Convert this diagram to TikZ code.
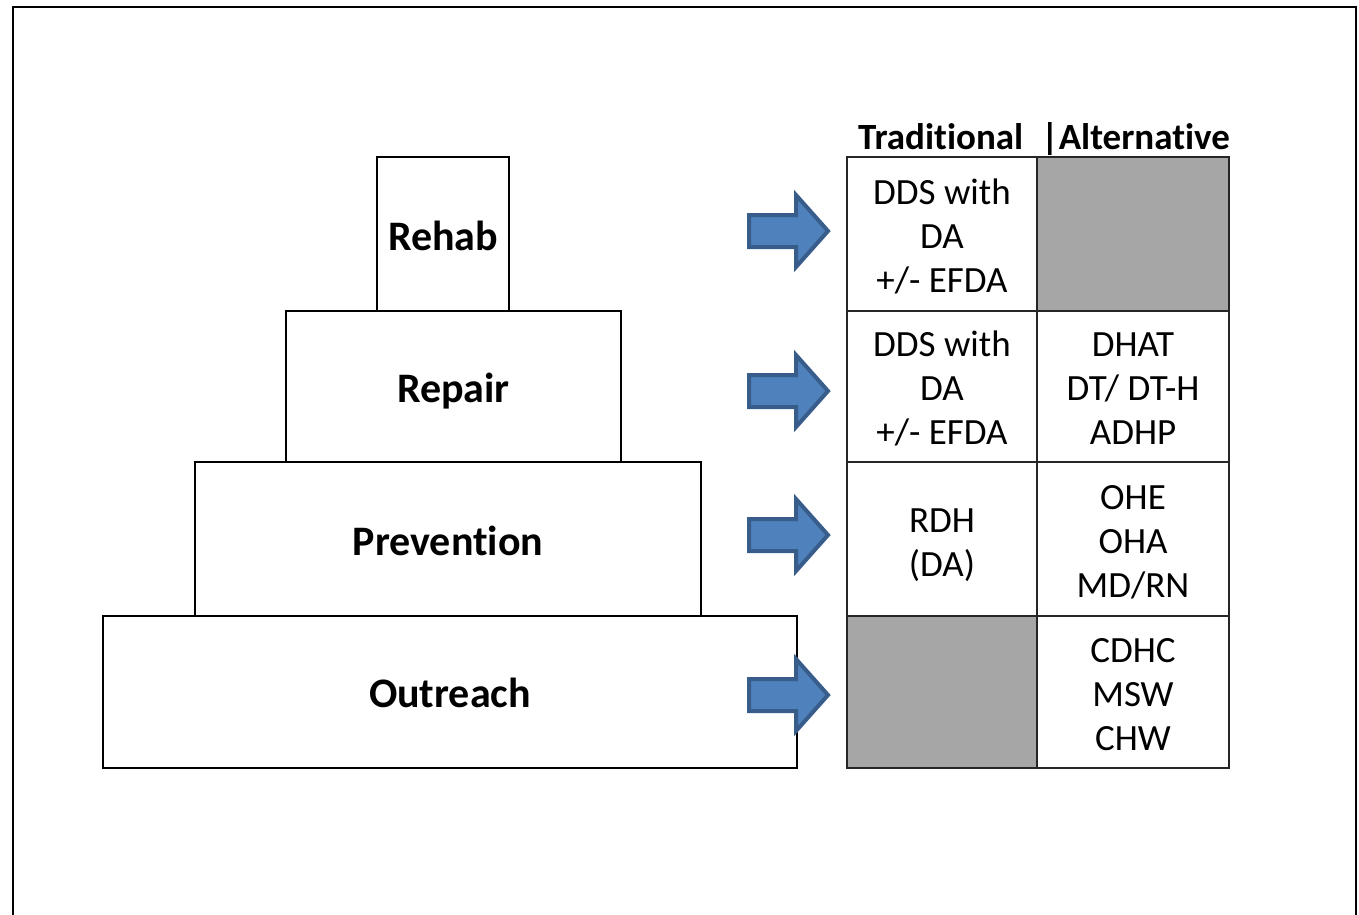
\documentclass[tikz,border=0pt]{standalone}
\usepackage{fontspec}
\setmainfont[Ligatures=NoCommon,RawFeature={-liga,-clig,-calt,-dlig}]{Carlito}
\definecolor{arrowfill}{HTML}{4F81BD}
\definecolor{arrowline}{HTML}{385D8A}
\definecolor{cellgray}{HTML}{A6A6A6}
\newcommand\nolig{\kern0pt{}}
\begin{document}
\begin{tikzpicture}[x=1pt,y=-1pt,
  tier/.style={draw=black, line width=2.5pt, fill=white, inner sep=0pt},
  tiertext/.style={inner sep=0pt, font=\fontsize{42}{50}\selectfont\bfseries},
  cell/.style={draw=black!85, line width=1.5pt, inner sep=0pt},
  graycell/.style={cell, fill=cellgray},
  celltext/.style={inner sep=0pt, align=center, font=\fontsize{37}{44}\selectfont},
  head/.style={inner sep=0pt, anchor=base west, font=\fontsize{37}{44}\selectfont\bfseries},
  blockarrow/.style={fill=arrowfill, draw=arrowline, line width=4pt, line join=miter}
]
\useasboundingbox (0,0) rectangle (1359,914);
% outer frame (open at the bottom)
\draw[line width=2.5pt] (13,930) -- (13,7) -- (1356,7) -- (1356,930);

% pyramid
\node[tier, minimum width=694pt, minimum height=152pt] (outreach) at (450,692) {};
\node[tier, minimum width=506pt, minimum height=154pt] (prevention) at (448,539) {};
\node[tier, minimum width=335pt, minimum height=151pt] (repair) at (453.5,386.5) {};
\node[tier, minimum width=132pt, minimum height=154pt] (rehab) at (443,234) {};
\node[tiertext] (toutreach) at (450,693) {Outreach};
\node[tiertext] (tprevention) at (448,541) {Prevent\nolig ion};
\node[tiertext] (trepair) at (453.5,391) {Repair};
\node[tiertext] (trehab) at (443,236) {Rehab};

% header
\node[head] (trad) at (858,149) {Tradit\nolig ional};
\node[head] (alt) at (1041,149) {|Alternat\nolig ive};

% table
\node[cell, minimum width=190pt, minimum height=154pt] (c11) at (942,234) {};
\node[graycell, minimum width=192pt, minimum height=154pt] (c12) at (1133,234) {};
\node[cell, minimum width=190pt, minimum height=151pt] (c21) at (942,386.5) {};
\node[cell, minimum width=192pt, minimum height=151pt] (c22) at (1133,386.5) {};
\node[cell, minimum width=190pt, minimum height=154pt] (c31) at (942,539) {};
\node[cell, minimum width=192pt, minimum height=154pt] (c32) at (1133,539) {};
\node[graycell, minimum width=190pt, minimum height=152pt] (c41) at (942,692) {};
\node[cell, minimum width=192pt, minimum height=152pt] (c42) at (1133,692) {};

\node[celltext] (t11) at (942,236) {DDS with\\DA\\+/- EFDA};
\node[celltext] (t21) at (942,388.5) {DDS with\\DA\\+/- EFDA};
\node[celltext] (t22) at (1133,388.5) {DHAT\\DT/ DT-H\\ADHP};
\node[celltext] (t31) at (942,545) {RDH\\(DA)};
\node[celltext] (t32) at (1133,542) {OHE\\OHA\\MD/RN};
\node[celltext] (t42) at (1133,695) {CDHC\\MSW\\CHW};

% block arrows
\foreach \c in {231,391,535,695}{
  \draw[blockarrow] (749,\c-16) -- (796,\c-16) -- (796,\c-36) -- (828,\c)
    -- (796,\c+36) -- (796,\c+16) -- (749,\c+16) -- cycle;
}
\end{tikzpicture}
\end{document}
